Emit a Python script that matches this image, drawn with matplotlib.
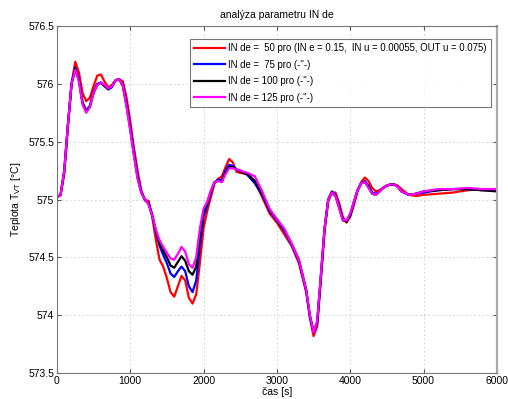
import numpy as np
import matplotlib
matplotlib.use("Agg")
import matplotlib.pyplot as plt

plt.rcParams['font.family'] = ['Liberation Sans', 'DejaVu Sans']

# time axis [s]
t = [0, 50, 100, 150, 200, 250, 300, 350, 400, 450, 500, 550, 600, 650, 700, 750,
     800, 850, 900, 950, 1000, 1050, 1100, 1150, 1200, 1250, 1300, 1350, 1400, 1450,
     1500, 1550, 1600, 1650, 1700, 1750, 1800, 1850, 1900, 1950, 2000, 2050, 2100,
     2150, 2200, 2250, 2300, 2350, 2400, 2450, 2500, 2600, 2700, 2800, 2900, 3000,
     3100, 3200, 3300, 3400, 3450, 3500, 3550, 3600, 3650, 3700, 3750, 3800, 3850,
     3900, 3950, 4000, 4050, 4100, 4150, 4200, 4250, 4300, 4350, 4400, 4450, 4500,
     4550, 4600, 4650, 4700, 4800, 4900, 5000, 5200, 5400, 5600, 5800, 6000]

temp_50 = [575.02, 575.04, 575.22, 575.62, 576.00, 576.19, 576.10, 575.92, 575.85, 575.88,
           575.98, 576.07, 576.08, 576.02, 575.97, 575.99, 576.03, 576.04, 576.02, 575.88,
           575.68, 575.45, 575.25, 575.08, 574.99, 574.99, 574.85, 574.65, 574.48, 574.42,
           574.32, 574.20, 574.16, 574.25, 574.34, 574.30, 574.15, 574.10, 574.18, 574.45,
           574.75, 574.90, 575.02, 575.14, 575.18, 575.20, 575.28, 575.35, 575.32, 575.24,
           575.23, 575.22, 575.15, 575.02, 574.88, 574.80, 574.70, 574.60, 574.45, 574.20,
           573.98, 573.82, 573.90, 574.30, 574.72, 574.98, 575.06, 575.06, 574.97, 574.85,
           574.80, 574.85, 574.95, 575.07, 575.15, 575.19, 575.16, 575.10, 575.07, 575.08,
           575.10, 575.12, 575.13, 575.13, 575.12, 575.09, 575.04, 575.03, 575.04, 575.05,
           575.06, 575.08, 575.09, 575.09]

temp_75 = [575.02, 575.04, 575.24, 575.64, 576.00, 576.14, 576.04, 575.84, 575.77, 575.81,
           575.93, 576.00, 576.01, 575.98, 575.95, 575.97, 576.03, 576.04, 575.99, 575.83,
           575.63, 575.41, 575.21, 575.07, 575.00, 574.97, 574.87, 574.72, 574.60, 574.52,
           574.45, 574.36, 574.33, 574.38, 574.42, 574.38, 574.25, 574.20, 574.30, 574.60,
           574.85, 574.95, 575.06, 575.15, 575.17, 575.17, 575.25, 575.30, 575.29, 575.26,
           575.25, 575.21, 575.14, 575.04, 574.90, 574.82, 574.73, 574.61, 574.47, 574.21,
           573.99, 573.85, 573.93, 574.33, 574.74, 575.00, 575.07, 575.04, 574.94, 574.83,
           574.81, 574.86, 574.97, 575.08, 575.14, 575.16, 575.12, 575.06, 575.05, 575.07,
           575.10, 575.12, 575.13, 575.13, 575.11, 575.07, 575.04, 575.05, 575.06, 575.08,
           575.09, 575.09, 575.08, 575.08]

temp_100 = [575.02, 575.04, 575.25, 575.65, 576.00, 576.13, 576.03, 575.83, 575.76, 575.80,
            575.92, 575.99, 576.01, 575.98, 575.96, 575.98, 576.03, 576.04, 575.98, 575.81,
            575.61, 575.39, 575.19, 575.06, 575.00, 574.96, 574.86, 574.73, 574.62, 574.56,
            574.50, 574.43, 574.41, 574.46, 574.51, 574.47, 574.38, 574.35, 574.42, 574.68,
            574.89, 574.97, 575.07, 575.15, 575.16, 575.16, 575.23, 575.28, 575.28, 575.26,
            575.24, 575.22, 575.16, 575.05, 574.91, 574.83, 574.74, 574.62, 574.48, 574.22,
            574.00, 573.86, 573.94, 574.34, 574.75, 575.00, 575.06, 575.03, 574.93, 574.82,
            574.81, 574.87, 574.98, 575.08, 575.14, 575.15, 575.11, 575.05, 575.04, 575.07,
            575.10, 575.12, 575.13, 575.13, 575.11, 575.07, 575.04, 575.05, 575.07, 575.08,
            575.09, 575.09, 575.08, 575.07]

temp_125 = [575.02, 575.04, 575.25, 575.65, 576.00, 576.12, 576.02, 575.82, 575.75, 575.80,
            575.92, 575.99, 576.01, 575.99, 575.96, 575.98, 576.03, 576.04, 575.98, 575.80,
            575.60, 575.38, 575.18, 575.06, 575.00, 574.96, 574.86, 574.74, 574.65, 574.59,
            574.54, 574.49, 574.48, 574.53, 574.59, 574.55, 574.44, 574.41, 574.50, 574.75,
            574.92, 574.98, 575.08, 575.15, 575.16, 575.15, 575.22, 575.27, 575.27, 575.26,
            575.25, 575.23, 575.20, 575.07, 574.92, 574.83, 574.75, 574.62, 574.48, 574.22,
            574.00, 573.85, 573.95, 574.35, 574.75, 575.00, 575.06, 575.03, 574.92, 574.82,
            574.82, 574.88, 574.98, 575.08, 575.14, 575.15, 575.10, 575.05, 575.04, 575.07,
            575.10, 575.12, 575.13, 575.13, 575.11, 575.07, 575.04, 575.05, 575.07, 575.09,
            575.09, 575.10, 575.09, 575.09]

series = [
    (temp_50, 'red', 'IN de =  50 pro (IN e = 0.15,  IN u = 0.00055, OUT u = 0.075)'),
    (temp_75, 'blue', 'IN de =  75 pro (-"-)'),
    (temp_100, 'black', 'IN de = 100 pro (-"-)'),
    (temp_125, 'magenta', 'IN de = 125 pro (-"-)'),
]

x_ticks = [0, 1000, 2000, 3000, 4000, 5000, 6000]
y_ticks = [573.5, 574, 574.5, 575, 575.5, 576, 576.5]
y_tick_labels = ['573.5', '574', '574.5', '575', '575.5', '576', '576.5']

fig = plt.figure(figsize=(5.08, 3.99), dpi=100)
ax = fig.add_axes([0.112, 0.065, 0.866, 0.870])

for vals, col, lab in series:
    ax.plot(t, vals, color=col, lw=1.6, label=lab, solid_joinstyle='round')

ax.set_xlim(0, 6000)
ax.set_ylim(573.5, 576.5)
ax.set_xticks(x_ticks)
ax.set_yticks(y_ticks)
ax.set_yticklabels(y_tick_labels)
ax.tick_params(direction='in', length=3, labelsize=7.5, top=True, right=True,
               color='#555555', pad=2)
ax.grid(True, linestyle=(0, (2, 3)), color='#cccccc', lw=0.6)
for s in ax.spines.values():
    s.set_color('#777777')
    s.set_linewidth(0.8)
ax.spines['right'].set_color('#aaaaaa')
ax.spines['right'].set_linewidth(1.6)

ax.set_title('analýza parametru IN de', fontsize=7.5, pad=6)
ax.set_xlabel('čas [s]', fontsize=7.5, labelpad=1)
ax.set_ylabel('Teplota T$_{\\mathrm{VT}}$ [°C]', fontsize=7.5, labelpad=4)

leg = ax.legend(loc='upper right', bbox_to_anchor=(0.986, 0.9625), fontsize=6.9,
                frameon=True, fancybox=False, edgecolor='#555555',
                handlelength=3.2, handletextpad=0.3, labelspacing=0.68,
                borderpad=0.45, borderaxespad=0)
leg.get_frame().set_linewidth(0.8)

fig.savefig('out.png', dpi=100)
